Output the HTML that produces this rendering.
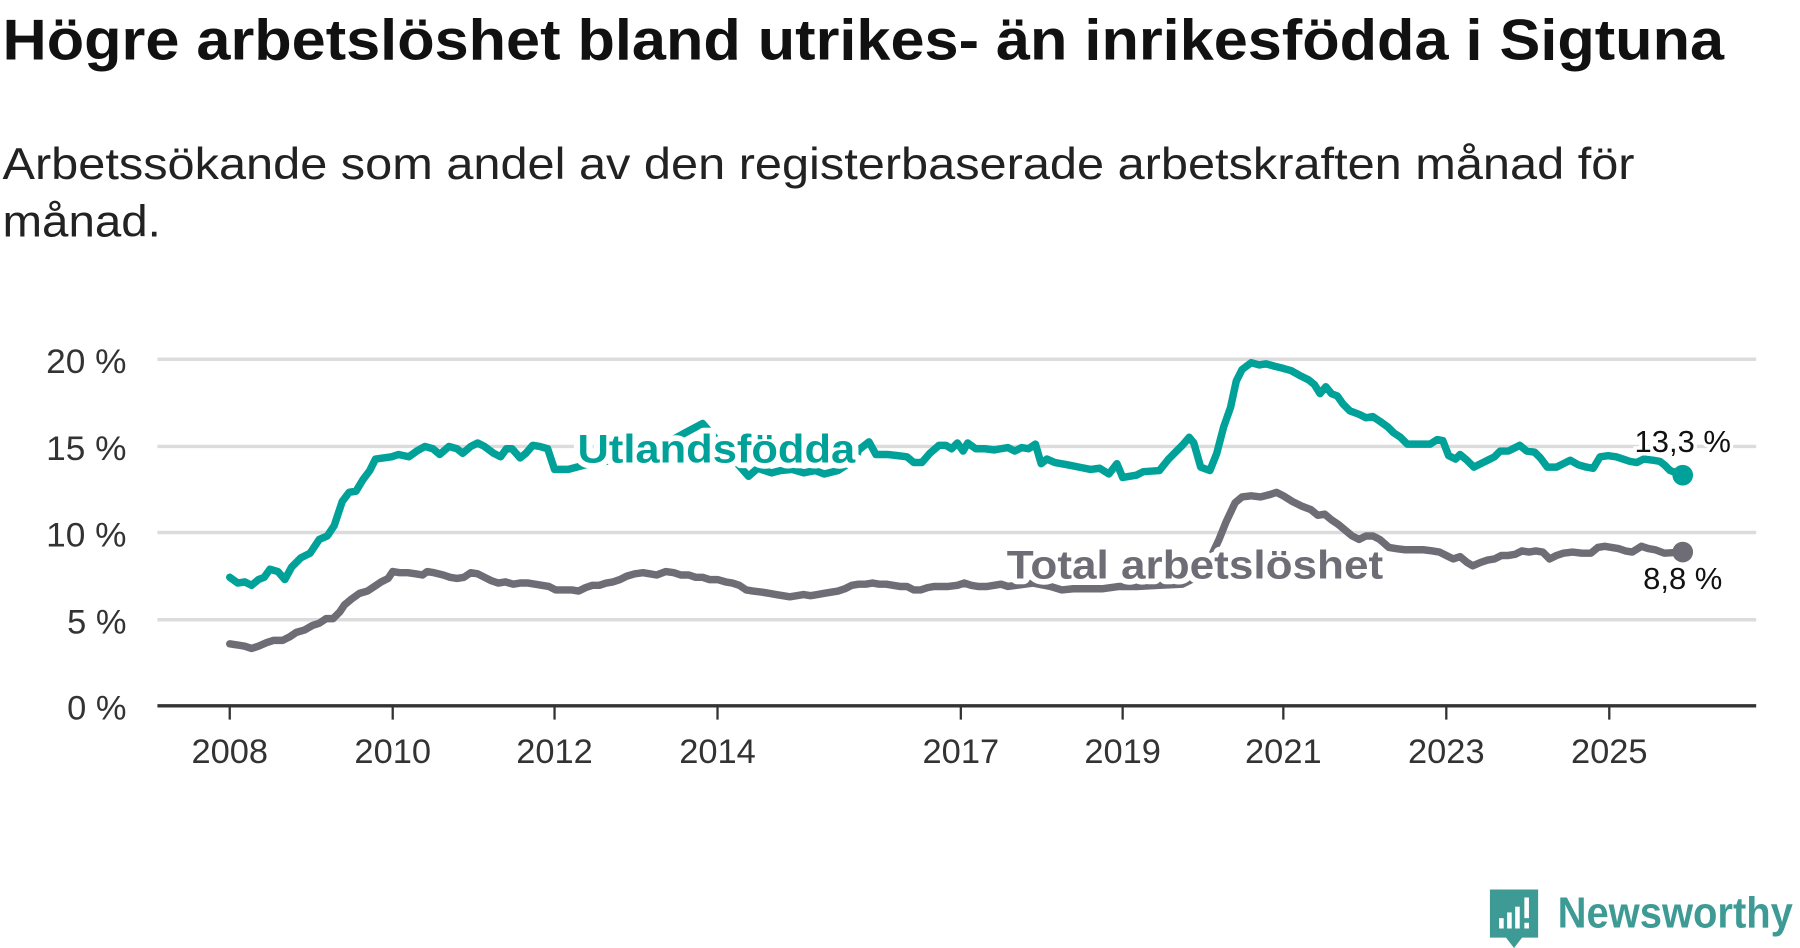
<!DOCTYPE html>
<html><head><meta charset="utf-8"><style>
html,body{margin:0;padding:0;background:#fff;}
svg{display:block;}
text{font-family:"Liberation Sans","DejaVu Sans",sans-serif;}
</style></head><body>
<svg width="1800" height="948" viewBox="0 0 1568 826" xmlns="http://www.w3.org/2000/svg">
<rect width="1568" height="826" fill="#fff"/>
<text x="2" y="52" font-size="50" font-weight="bold" fill="#111" textLength="1500" lengthAdjust="spacingAndGlyphs">Högre arbetslöshet bland utrikes- än inrikesfödda i Sigtuna</text>
<text x="2" y="156" font-size="39" fill="#222" textLength="1422" lengthAdjust="spacingAndGlyphs">Arbetssökande som andel av den registerbaserade arbetskraften månad för</text>
<text x="2" y="206" font-size="39" fill="#222" textLength="138" lengthAdjust="spacingAndGlyphs">månad.</text>
<g stroke="#dcdcdc" stroke-width="3">
<line x1="137" y1="313" x2="1530" y2="313"/><line x1="137" y1="389" x2="1530" y2="389"/>
<line x1="137" y1="464" x2="1530" y2="464"/><line x1="137" y1="540" x2="1530" y2="540"/>
</g>
<g font-size="30" fill="#333" text-anchor="end">
<text x="110" y="325" textLength="70" lengthAdjust="spacingAndGlyphs">20 %</text><text x="110" y="401" textLength="70" lengthAdjust="spacingAndGlyphs">15 %</text><text x="110" y="476" textLength="70" lengthAdjust="spacingAndGlyphs">10 %</text><text x="110" y="552">5 %</text><text x="110" y="627">0 %</text>
</g>
<line x1="137" y1="615" x2="1530" y2="615" stroke="#333" stroke-width="3"/>
<g stroke="#333" stroke-width="2">
<line x1="200" y1="615" x2="200" y2="627"/><line x1="342" y1="615" x2="342" y2="627"/><line x1="483" y1="615" x2="483" y2="627"/><line x1="625" y1="615" x2="625" y2="627"/><line x1="837" y1="615" x2="837" y2="627"/><line x1="978" y1="615" x2="978" y2="627"/><line x1="1118" y1="615" x2="1118" y2="627"/><line x1="1260" y1="615" x2="1260" y2="627"/><line x1="1402" y1="615" x2="1402" y2="627"/>
</g>
<g font-size="30" fill="#333" text-anchor="middle">
<text x="200" y="665">2008</text><text x="342" y="665">2010</text><text x="483" y="665">2012</text><text x="625" y="665">2014</text><text x="837" y="665">2017</text><text x="978" y="665">2019</text><text x="1118" y="665">2021</text><text x="1260" y="665">2023</text><text x="1402" y="665">2025</text>
</g>
<g fill="none" stroke-width="6.5" stroke-linejoin="round" stroke-linecap="round">
<polyline stroke="#6e6d75" points="200,561 207,562 213,563 219,565 225,563 232,560 238,558 246,558 252,555 258,551 265,549 272,545 278,543 284,539 290,539 296,533 300,527 306,522 313,517 320,515 326,511 332,507 338,504 342,498 348,499 355,499 362,500 368,501 372,498 378,499 386,501 392,503 398,504 404,503 410,499 416,500 422,503 428,506 434,508 440,507 447,509 453,508 460,508 466,509 472,510 478,511 484,514 490,514 498,514 504,515 510,512 516,510 522,510 528,508 534,507 540,505 546,502 553,500 560,499 566,500 572,501 580,498 587,499 593,501 600,501 606,503 612,503 618,505 625,505 632,507 638,508 644,510 650,514 656,515 664,516 670,517 676,518 682,519 688,520 694,519 700,518 706,519 712,518 718,517 724,516 730,515 736,513 742,510 748,509 754,509 760,508 766,509 772,509 778,510 784,511 790,511 796,514 802,514 808,512 814,511 820,511 826,511 834,510 840,508 846,510 852,511 860,511 866,510 872,509 878,511 900,508 915,511 925,514 935,513 945,513 960,513 975,511 990,511 1010,510 1030,509 1048,500 1055,485 1062,470 1068,455 1076,438 1082,433 1090,432 1098,433 1106,431 1112,429 1118,432 1126,437 1134,441 1142,444 1148,449 1154,448 1160,453 1166,457 1172,462 1178,467 1184,470 1190,467 1196,467 1202,470 1210,477 1216,478 1224,479 1232,479 1240,479 1248,480 1254,481 1260,484 1266,487 1272,485 1278,490 1283,493 1290,490 1296,488 1302,487 1308,484 1314,484 1320,483 1326,480 1332,481 1338,480 1344,481 1350,487 1356,484 1362,482 1370,481 1378,482 1386,482 1392,477 1398,476 1404,477 1410,478 1416,480 1422,481 1430,476 1436,478 1442,479 1450,482 1466,481"/>
<polyline stroke="#00a198" points="200,503 207,508 213,507 219,510 225,505 230,503 235,496 242,498 248,505 254,494 262,486 270,482 278,470 285,467 291,458 298,437 304,429 310,428 316,418 322,410 327,400 334,399 341,398 347,396 356,398 363,393 370,389 377,391 383,396 391,389 398,391 403,395 410,389 416,386 422,389 430,395 436,398 441,391 446,391 453,399 458,395 464,388 470,389 477,391 483,409 495,409 510,405 540,400 570,392 597,377 612,369 630,390 652,415 660,408 672,412 680,410 690,409 700,412 710,410 718,413 730,410 745,400 748,392 757,385 763,396 773,396 782,397 790,398 796,403 803,403 810,395 818,388 824,388 829,391 834,386 839,393 843,386 850,391 858,391 866,392 872,391 878,390 884,393 890,390 896,391 902,387 907,404 912,400 919,403 930,405 940,407 950,409 958,408 966,413 973,404 978,416 990,414 996,411 1010,410 1018,400 1024,394 1030,388 1036,381 1040,386 1046,407 1054,410 1060,395 1066,372 1072,355 1077,332 1082,322 1090,316 1097,318 1103,317 1110,319 1118,321 1125,323 1132,327 1140,331 1145,335 1150,343 1155,337 1160,343 1165,345 1170,352 1176,358 1184,361 1190,364 1196,363 1202,367 1209,372 1214,377 1220,381 1226,387 1233,387 1240,387 1246,387 1252,383 1257,384 1262,397 1268,400 1272,396 1278,401 1284,407 1290,404 1296,401 1302,398 1307,393 1314,393 1320,390 1324,388 1330,393 1337,394 1342,399 1348,407 1356,407 1362,404 1368,401 1375,405 1382,407 1388,408 1394,398 1401,397 1408,398 1414,400 1420,402 1426,403 1432,400 1440,401 1446,402 1450,405 1455,410 1466,414"/>
</g>
<g font-weight="bold" font-size="35" stroke="#fff" stroke-width="10" stroke-linejoin="round" paint-order="stroke">
<text x="503" y="403" fill="#00a198" textLength="242" lengthAdjust="spacingAndGlyphs">Utlandsfödda</text>
<text x="877" y="504" fill="#6e6d75" textLength="328" lengthAdjust="spacingAndGlyphs">Total arbetslöshet</text>
</g>
<circle cx="1466" cy="414" r="9" fill="#00a198"/>
<circle cx="1466" cy="481" r="9" fill="#6e6d75"/>
<g font-size="27" fill="#111" text-anchor="middle" stroke="#fff" stroke-width="6" paint-order="stroke">
<text x="1466" y="394">13,3 %</text>
<text x="1466" y="513">8,8 %</text>
</g>
<g>
<path d="M1298,775 h42 v42 h-14 l-7,9 l-7,-9 h-14 z" fill="#3d9a94"/>
<rect x="1306" y="800" width="4" height="9" fill="#fff"/><rect x="1313" y="795" width="4" height="14" fill="#fff"/><rect x="1320" y="790" width="4" height="19" fill="#fff"/><rect x="1328" y="782" width="4" height="18" fill="#fff"/><rect x="1328" y="804" width="4" height="5" fill="#fff"/>
<text x="1357" y="808" font-size="38" font-weight="bold" fill="#3d9a94" textLength="205" lengthAdjust="spacingAndGlyphs">Newsworthy</text>
</g>
</svg>
</body></html>
